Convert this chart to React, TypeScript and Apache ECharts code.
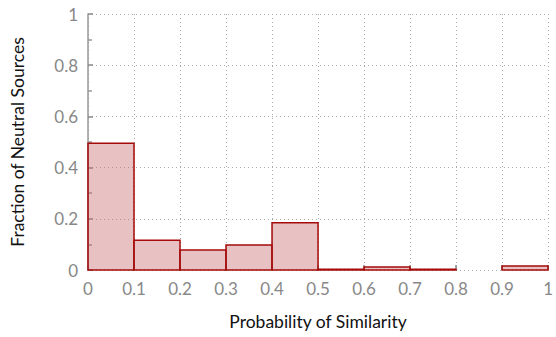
import React, { useEffect, useRef } from "react";
import * as echarts from "echarts";

const binStarts = [0, 0.1, 0.2, 0.3, 0.4, 0.5, 0.6, 0.7, 0.8, 0.9];
const binWidth = 0.1;
const fractions = [0.495, 0.116, 0.078, 0.098, 0.185, 0.003, 0.012, 0.003, 0, 0.016];
const xTitle = "Probability of Similarity";
const yTitle = "Fraction of Neutral Sources";

const FONT = "Lato, 'Open Sans', sans-serif";

const fmt = (v: number) => (Math.abs(v) < 1e-9 ? "0" : Math.abs(v - 1) < 1e-9 ? "1" : v.toFixed(1));

export default function App() {
  const ref = useRef<HTMLDivElement>(null);
  useEffect(() => {
    document.body.style.margin = "0";
    if (!ref.current) return;
    const chart = echarts.init(ref.current, undefined, { renderer: "svg" });
    const data = binStarts.map((s, i) => [s, s + binWidth, fractions[i]]);
    chart.setOption({
      animation: false,
      grid: { left: 88, right: 6, top: 14, bottom: 67, containLabel: false },
      xAxis: {
        type: "value",
        min: 0,
        max: 1,
        interval: 0.1,
        name: xTitle,
        nameLocation: "middle",
        nameGap: 42,
        nameTextStyle: { color: "#111", fontSize: 17.5, fontFamily: FONT },
        axisLine: { show: false },
        axisTick: { show: true, inside: true, length: 5, lineStyle: { color: "#888", width: 1.5 } },
        axisLabel: { color: "#888", fontSize: 17, fontFamily: FONT, margin: 10, formatter: fmt },
        splitLine: { show: true, lineStyle: { color: "#aaa", type: [1, 3], width: 1 } },
      },
      yAxis: {
        type: "value",
        min: 0,
        max: 1,
        interval: 0.2,
        name: yTitle,
        nameLocation: "middle",
        nameGap: 62,
        nameTextStyle: { color: "#111", fontSize: 17.5, fontFamily: FONT },
        axisLine: { show: true, lineStyle: { color: "#999", width: 1.5 } },
        axisTick: { show: true, inside: true, length: 5, lineStyle: { color: "#888", width: 1.5 } },
        minorTick: { show: true, splitNumber: 2, length: 4, lineStyle: { color: "#999", width: 1.5 } },
        axisLabel: { color: "#888", fontSize: 17, fontFamily: FONT, margin: 10, formatter: fmt },
        splitLine: { show: true, lineStyle: { color: "#aaa", type: [1, 3], width: 1 } },
      },
      series: [
        {
          type: "custom",
          data,
          encode: { x: [0, 1], y: 2 },
          renderItem: (params: any, api: any) => {
            const x0 = api.value(0);
            const x1 = api.value(1);
            const v = api.value(2);
            if (!(v > 0)) return null;
            const p0 = api.coord([x0, v]);
            const p1 = api.coord([x1, 0]);
            return {
              type: "rect",
              shape: { x: p0[0], y: p0[1], width: p1[0] - p0[0], height: p1[1] - p0[1] },
              style: { fill: "rgba(200,110,110,0.42)", stroke: "#a50a0a", lineWidth: 1.5 },
            };
          },
          z: 3,
        },
      ],
    });
    return () => chart.dispose();
  }, []);
  return <div ref={ref} style={{ width: 556, height: 337 }} />;
}
